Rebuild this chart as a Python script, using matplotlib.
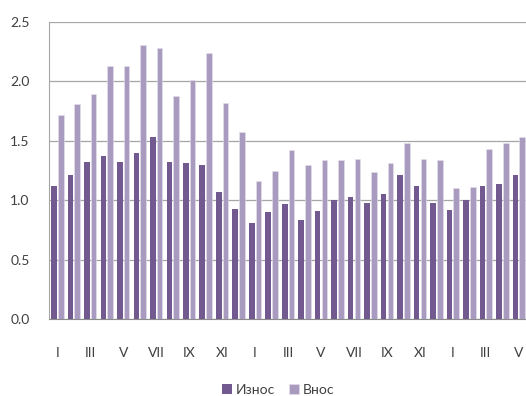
import matplotlib
matplotlib.use("Agg")
import matplotlib.pyplot as plt
import numpy as np

months = ["I", "II", "III", "IV", "V", "VI", "VII", "VIII", "IX", "X", "XI", "XII"] * 2 + \
         ["I", "II", "III", "IV", "V"]

export = [1.12, 1.21, 1.32, 1.37, 1.32, 1.40, 1.53, 1.32, 1.31, 1.30, 1.07, 0.93,
          0.81, 0.90, 0.97, 0.83, 0.91, 1.00, 1.03, 0.98, 1.05, 1.21, 1.12, 0.98,
          0.92, 1.00, 1.12, 1.14, 1.21]
imports = [1.72, 1.81, 1.89, 2.13, 2.13, 2.31, 2.28, 1.88, 2.01, 2.24, 1.82, 1.57,
           1.16, 1.25, 1.42, 1.30, 1.34, 1.34, 1.35, 1.24, 1.31, 1.48, 1.35, 1.34,
           1.10, 1.11, 1.43, 1.48, 1.53]

plt.rcParams["font.family"] = ["Lato", "DejaVu Sans"]

fig = plt.figure(figsize=(5.26, 3.96), dpi=100)
ax = fig.add_axes([49 / 526, 77 / 396, 478 / 526, 297 / 396])

x = np.arange(len(months))
w = 0.34
ax.bar(x - 0.2, export, width=w, color="#725A91", label="Износ", zorder=3)
ax.bar(x + 0.21, imports, width=w, color="#A89BBF", edgecolor="#E6E0EE",
       linewidth=0.4, label="Внос", zorder=3)

ax.set_xlim(-0.5, len(months) - 0.5)
ax.set_ylim(0, 2.5)
ax.set_yticks(np.arange(0, 2.51, 0.5))
ax.set_yticklabels([f"{v:.1f}" for v in np.arange(0, 2.51, 0.5)])
ax.set_xticks(x[::2])
ax.set_xticklabels(months[::2])

ax.yaxis.grid(True, color="#A6A6A6", linewidth=0.9, zorder=0)
for s in ["top", "right"]:
    ax.spines[s].set_visible(False)
ax.spines["left"].set_color("#A6A6A6")
ax.spines["bottom"].set_color("#8C8C8C")
ax.tick_params(axis="both", length=0, labelsize=10, labelcolor="#404040")
ax.tick_params(axis="y", pad=14)
ax.tick_params(axis="x", pad=20)

ax.legend(loc="lower center", bbox_to_anchor=(0.5 - 10 / 478, -0.3), ncol=2,
          frameon=False, fontsize=10, handlelength=0.7, handleheight=0.7,
          handletextpad=0.3, columnspacing=1.0, labelcolor="#404040")

fig.savefig("out.png", dpi=100)
